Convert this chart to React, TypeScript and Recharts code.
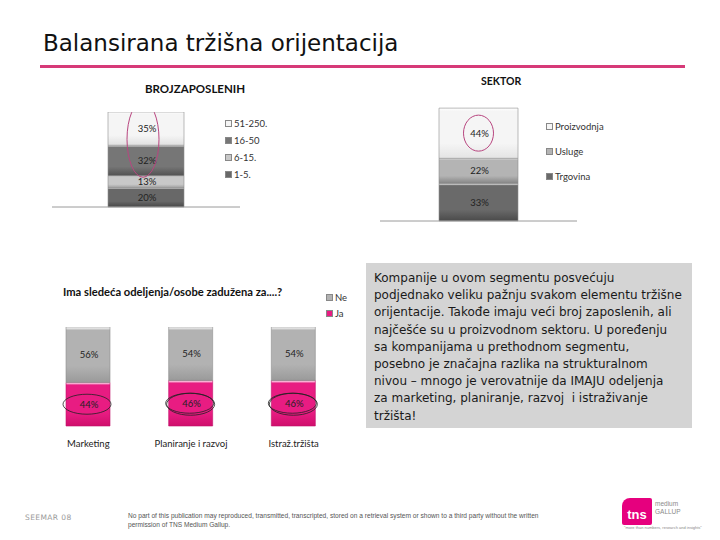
import { Bar, BarChart, LabelList, XAxis, YAxis } from "recharts"

// BROJ ZAPOSLENIH (bottom -> top)
const sizeSeries = ["1-5.", "6-15.", "16-50", "51-250."]
const sizeValues = [20, 13, 32, 35]
const sizeColors = [
  ["#686868", "#474747"],
  ["#c8c8c8", "#9c9c9c"],
  ["#767676", "#525252"],
  ["#f5f5f5", "#e0e0e0"],
]

// SEKTOR (bottom -> top)
const sectorSeries = ["Trgovina", "Usluge", "Proizvodnja"]
const sectorValues = [33, 22, 44]
const sectorColors = [
  ["#6a6a6a", "#4a4a4a"],
  ["#b4b4b4", "#858585"],
  ["#f5f5f5", "#e4e4e4"],
]

// Ima sledeća odeljenja...
const deptCategories = ["Marketing", "Planiranje i razvoj", "Istraž.tržišta"]
const deptYes = [44, 46, 46]
const deptNo = [56, 54, 54]
const deptSeries = ["Ja", "Ne"]
const deptColors = [
  ["#e81c82", "#d00e6c"],
  ["#b2b2b2", "#9a9a9a"],
]

const sizeData = [
  Object.fromEntries(sizeValues.map((v, i) => [`s${i}`, v])),
]
const sectorData = [
  Object.fromEntries(sectorValues.map((v, i) => [`s${i}`, v])),
]
const deptData = deptCategories.map((name, i) => ({
  name,
  yes: deptYes[i],
  no: deptNo[i],
}))

const chartFont = "Lato, 'Open Sans', sans-serif"

function box(props: any) {
  const vb = props.viewBox ?? {}
  return {
    x: Number(props.x ?? vb.x),
    y: Number(props.y ?? vb.y),
    width: Number(props.width ?? vb.width),
    height: Number(props.height ?? vb.height),
  }
}

function SegLabel(props: any) {
  const { x, y, width, height } = box(props)
  return (
    <text
      x={x + width / 2 + 1}
      y={y + height / 2}
      textAnchor="middle"
      dominantBaseline="central"
      fontSize={9.5}
      fontFamily={chartFont}
      fill="#222"
    >
      {props.value}%
    </text>
  )
}

function Gradient({ id, colors }: { id: string; colors: string[] }) {
  return (
    <linearGradient id={id} x1="0" y1="0" x2="0" y2="1">
      <stop offset="0" stopColor="#ffffff" stopOpacity={0.85} />
      <stop offset="0.06" stopColor={colors[0]} />
      <stop offset="0.7" stopColor={colors[0]} />
      <stop offset="1" stopColor={colors[1]} />
    </linearGradient>
  )
}

function LegendList({
  names,
  colors,
  left,
  top,
  gap,
}: {
  names: string[]
  colors: string[][]
  left: number
  top: number
  gap: number
}) {
  return (
    <div style={{ position: "absolute", left, top, fontFamily: chartFont, fontSize: 9.5, color: "#333" }}>
      {names.map((n, i) => (
        <div key={n} style={{ display: "flex", alignItems: "center", height: gap, whiteSpace: "nowrap" }}>
          <span
            style={{
              width: 5,
              height: 5,
              marginRight: 2,
              border: "1px solid #888",
              background: colors[i][0],
            }}
          />
          {n}
        </div>
      ))}
    </div>
  )
}

export default function App() {
  return (
    <div
      style={{
        position: "absolute",
        left: 0,
        top: 0,
        width: 720,
        height: 540,
        background: "#fff",
        overflow: "hidden",
        fontFamily: "'DejaVu Sans', Verdana, sans-serif",
      }}
    >
      <svg width={0} height={0} style={{ position: "absolute" }}>
        <defs>
          {sizeColors.map((c, i) => (
            <Gradient key={`a${i}`} id={`size${i}`} colors={c} />
          ))}
          {sectorColors.map((c, i) => (
            <Gradient key={`b${i}`} id={`sector${i}`} colors={c} />
          ))}
          {deptColors.map((c, i) => (
            <Gradient key={`c${i}`} id={`dept${i}`} colors={c} />
          ))}
        </defs>
      </svg>

      <div style={{ position: "absolute", left: 43, top: 30, fontSize: 23, color: "#111", whiteSpace: "nowrap" }}>
        Balansirana tržišna orijentacija
      </div>
      <div style={{ position: "absolute", left: 40, top: 65, width: 645, height: 3, background: "#d63a78" }} />

      {/* BROJ ZAPOSLENIH */}
      <div
        style={{
          position: "absolute",
          left: 145,
          top: 82,
          fontFamily: chartFont,
          fontWeight: 700,
          fontSize: 11.5,
          color: "#111",
        }}
      >
        BROJZAPOSLENIH
      </div>
      <div style={{ position: "absolute", left: 52, top: 112 }}>
        <BarChart width={188} height={96} data={sizeData} margin={{ top: 0, right: 0, bottom: 0, left: 0 }}>
          <XAxis tick={false} tickLine={false} height={1} stroke="#9a9a9a" />
          <YAxis hide domain={[0, 100]} />
          {sizeSeries.map((n, i) => (
            <Bar
              key={n}
              dataKey={`s${i}`}
              name={n}
              stackId="a"
              barSize={76}
              fill={`url(#size${i})`}
              stroke="#8f8f8f"
              strokeWidth={0.6}
              isAnimationActive={false}
            >
              <LabelList dataKey={`s${i}`} content={SegLabel} />
              {i === 3 && (
                <LabelList
                  dataKey={`s${i}`}
                  content={(p: any) => {
                    const { x, y, width, height } = box(p)
                    return (
                      <ellipse
                        cx={x + width / 2 - 3}
                        cy={y + height - 6}
                        rx={16}
                        ry={38}
                        fill="none"
                        stroke="#b8457f"
                        strokeWidth={1}
                      />
                    )
                  }}
                />
              )}
            </Bar>
          ))}
        </BarChart>
      </div>
      <LegendList names={[...sizeSeries].reverse()} colors={[...sizeColors].reverse()} left={225} top={115} gap={17} />

      {/* SEKTOR */}
      <div
        style={{
          position: "absolute",
          left: 481,
          top: 75,
          fontFamily: chartFont,
          fontWeight: 700,
          fontSize: 10.5,
          color: "#111",
        }}
      >
        SEKTOR
      </div>
      <div style={{ position: "absolute", left: 380, top: 107 }}>
        <BarChart width={197} height={115} data={sectorData} margin={{ top: 0, right: 0, bottom: 0, left: 0 }}>
          <XAxis tick={false} tickLine={false} height={1} stroke="#9a9a9a" />
          <YAxis hide domain={[0, 100]} />
          {sectorSeries.map((n, i) => (
            <Bar
              key={n}
              dataKey={`s${i}`}
              name={n}
              stackId="a"
              barSize={79}
              fill={`url(#sector${i})`}
              stroke="#8f8f8f"
              strokeWidth={0.6}
              isAnimationActive={false}
            >
              <LabelList dataKey={`s${i}`} content={SegLabel} />
              {i === 2 && (
                <LabelList
                  dataKey={`s${i}`}
                  content={(p: any) => {
                    const { x, y, width } = box(p)
                    return (
                      <ellipse cx={x + width / 2} cy={y + 25} rx={15} ry={18} fill="none" stroke="#b8457f" strokeWidth={1} />
                    )
                  }}
                />
              )}
            </Bar>
          ))}
        </BarChart>
      </div>
      <LegendList names={[...sectorSeries].reverse()} colors={[...sectorColors].reverse()} left={546} top={114} gap={25} />

      {/* Odeljenja */}
      <div
        style={{
          position: "absolute",
          left: 63,
          top: 285,
          fontFamily: chartFont,
          fontWeight: 700,
          fontSize: 11.2,
          color: "#111",
          whiteSpace: "nowrap",
        }}
      >
        Ima sledeća odeljenja/osobe zadužena za....?
      </div>
      <div style={{ position: "absolute", left: 37, top: 327 }}>
        <BarChart width={308} height={129} data={deptData} margin={{ top: 0, right: 0, bottom: 0, left: 0 }}>
          <XAxis
            dataKey="name"
            axisLine={false}
            tickLine={false}
            tickMargin={8}
            height={30}
            interval={0}
            tick={{ fontSize: 9.5, fill: "#222", fontFamily: chartFont }}
          />
          <YAxis hide domain={[0, 100]} />
          <Bar
            dataKey="yes"
            name={deptSeries[0]}
            stackId="a"
            barSize={44}
            fill="url(#dept0)"
            stroke="#c0106a"
            strokeWidth={0.6}
            isAnimationActive={false}
          >
            <LabelList dataKey="yes" content={SegLabel} />
            <LabelList
              dataKey="yes"
              content={(p: any) => {
                const { x, y, width, height } = box(p)
                const cx = x + width / 2 - 1
                const cy = y + height / 2
                return (
                  <g fill="none" stroke="#222" strokeWidth={0.8}>
                    <ellipse cx={cx} cy={cy} rx={24} ry={10} />
                    {p.index > 0 && <ellipse cx={cx + 1} cy={cy + 1} rx={24} ry={11} />}
                  </g>
                )
              }}
            />
          </Bar>
          <Bar
            dataKey="no"
            name={deptSeries[1]}
            stackId="a"
            barSize={44}
            fill="url(#dept1)"
            stroke="#8f8f8f"
            strokeWidth={0.6}
            isAnimationActive={false}
          >
            <LabelList dataKey="no" content={SegLabel} />
          </Bar>
        </BarChart>
      </div>
      <LegendList names={[...deptSeries].reverse()} colors={[...deptColors].reverse()} left={326} top={289} gap={16} />

      {/* Text box */}
      <div
        style={{
          position: "absolute",
          left: 366,
          top: 263,
          width: 326,
          height: 165,
          background: "#d4d4d4",
          boxSizing: "border-box",
          padding: "7px 0 0 8px",
          fontSize: 12,
          lineHeight: "17.2px",
          color: "#1a1a1a",
          whiteSpace: "nowrap",
        }}
      >
        <div>Kompanije u ovom segmentu posvećuju</div>
        <div>podjednako veliku pažnju svakom elementu tržišne</div>
        <div>orijentacije. Takođe imaju veći broj zaposlenih, ali</div>
        <div>najčešće su u proizvodnom sektoru. U poređenju</div>
        <div>sa kompanijama u prethodnom segmentu,</div>
        <div>posebno je značajna razlika na strukturalnom</div>
        <div>nivou – mnogo je verovatnije da IMAJU odeljenja</div>
        <div>za marketing, planiranje, razvoj&nbsp; i istraživanje</div>
        <div>tržišta!</div>
      </div>

      {/* Footer */}
      <div style={{ position: "absolute", left: 25, top: 513, fontSize: 7.5, color: "#9a9a9a", letterSpacing: 0.4 }}>
        SEEMAR 08
      </div>
      <div
        style={{
          position: "absolute",
          left: 128,
          top: 511,
          fontSize: 6.6,
          lineHeight: "9px",
          color: "#555",
          fontFamily: "Arial, 'Liberation Sans', sans-serif",
          whiteSpace: "nowrap",
        }}
      >
        <div>
          No part of this publication may reproduced, transmitted, transcripted, stored on a retrieval system or shown to a third party without the written
        </div>
        <div>permission of TNS Medium Gallup.</div>
      </div>
      <div
        style={{
          position: "absolute",
          left: 622,
          top: 498,
          width: 30,
          height: 27,
          background: "#e6007e",
          borderRadius: "8px 2px 2px 2px",
          color: "#fff",
          fontFamily: "Arial, 'Liberation Sans', sans-serif",
          fontWeight: 700,
          fontSize: 13,
          lineHeight: "34px",
          textAlign: "center",
        }}
      >
        tns
      </div>
      <div
        style={{
          position: "absolute",
          left: 655,
          top: 500,
          fontSize: 6.5,
          lineHeight: "8px",
          color: "#8a8a8a",
          fontFamily: "Arial, 'Liberation Sans', sans-serif",
        }}
      >
        <div>medium</div>
        <div>GALLUP</div>
      </div>
      <div
        style={{
          position: "absolute",
          left: 624,
          top: 525,
          fontSize: 4,
          color: "#888",
          fontFamily: "Arial, 'Liberation Sans', sans-serif",
          whiteSpace: "nowrap",
        }}
      >
        "more than numbers, research and insights"
      </div>
    </div>
  )
}
